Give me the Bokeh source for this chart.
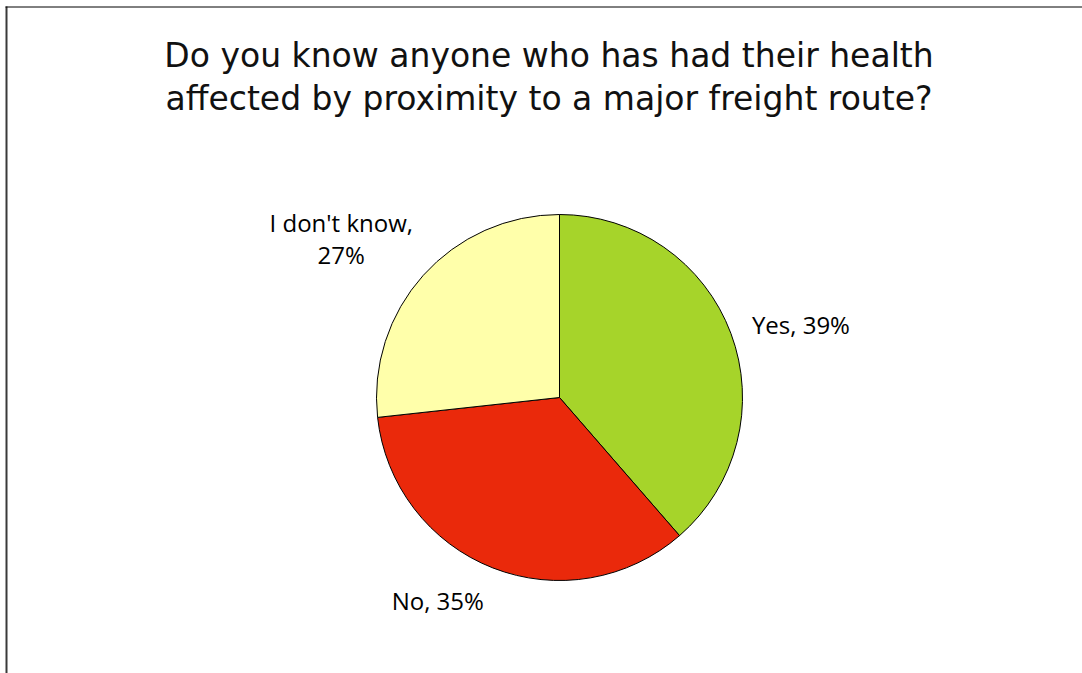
import math
from bokeh.plotting import figure
from bokeh.models import Range1d, ColumnDataSource
from bokeh.core.properties import value
from bokeh.embed import file_html
from bokeh.resources import INLINE

# ---- data ----
categories = ["Yes", "No", "I don't know"]
percents = [39, 35, 27]
label_lines = [["Yes, 39%"], ["No, 35%"], ["I don't know,", "27%"]]
colors = ["#A6D42A", "#EA290B", "#FFFFAA"]
title_lines = ["Do you know anyone who has had their health",
               "affected by proximity to a major freight route?"]

# ---- layout / style ----
W, H = 1082, 673
CX, CY_PX, R = 559, 397, 183
CY = H - CY_PX
label_offsets = [(70, -9), (-55, 33), (-82, -37)]  # screen px from slice edge point

p = figure(width=W, height=H, output_backend="svg", toolbar_location=None,
           x_range=Range1d(0, W), y_range=Range1d(0, H),
           x_axis_type=None, y_axis_type=None, min_border=0,
           outline_line_color=None, background_fill_color="white",
           border_fill_color="white")
p.grid.visible = False

total = sum(percents)
starts, ends, mids = [], [], []
cum = 0.0
for v in percents:
    a0 = math.pi / 2 - 2 * math.pi * cum / total
    cum += v
    a1 = math.pi / 2 - 2 * math.pi * cum / total
    starts.append(a1)
    ends.append(a0)
    mids.append((a0 + a1) / 2)

src = ColumnDataSource(dict(cat=categories, val=percents, start=starts, end=ends,
                            color=colors))
p.wedge(x=CX, y=CY, radius=R, start_angle="start", end_angle="end",
        fill_color="color", line_color="black", line_width=1, source=src)

lx = [CX + R * math.cos(m) for m in mids]
ly = [CY + R * math.sin(m) for m in mids]
ltxt = ["\n".join(l) for l in label_lines]
lsrc = ColumnDataSource(dict(x=lx, y=ly, text=ltxt,
                             xo=[o[0] for o in label_offsets],
                             yo=[o[1] for o in label_offsets]))
p.text(x="x", y="y", text="text", x_offset="xo", y_offset="yo", source=lsrc,
       text_align="center", text_baseline="middle", text_font=value("Open Sans"),
       text_font_size="24px", text_color="black", text_line_height=0.95)

# title
p.text(x=[548.5, 548.5], y=[H - 55, H - 98], text=title_lines,
       text_align="center", text_baseline="alphabetic",
       text_font=value("DejaVu Sans"), text_font_size="33px", text_color="#111111")

# frame
p.segment(x0=[6], y0=[H - 6], x1=[6], y1=[0], line_color="#3a3a3a", line_width=2)
p.segment(x0=[5], y0=[H - 6.5], x1=[W], y1=[H - 6.5], line_color="black", line_width=1)

open("out.html", "w").write(file_html(p, INLINE))
